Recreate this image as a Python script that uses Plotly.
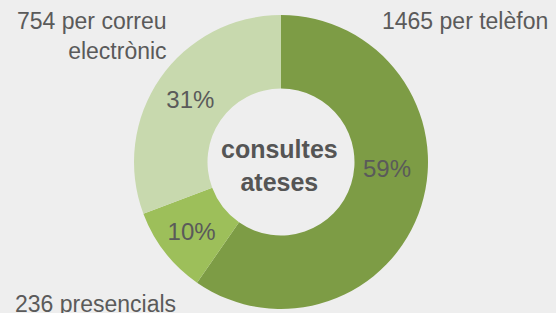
import plotly.graph_objects as go

categories = ["per telèfon", "presencials", "per correu electrònic"]
values = [1465, 236, 754]
pct_labels = ["59%", "10%", "31%"]
colors = ["#7d9c45", "#9dbf5a", "#c8d9ae"]
center_text = "consultes<br>ateses"

FONT = "Liberation Sans, Arial, sans-serif"
GRAY = "#5a5a5a"

fig = go.Figure(go.Pie(
    labels=categories,
    values=values,
    text=pct_labels,
    textinfo="text",
    textposition=["none", "inside", "inside"],
    insidetextorientation="horizontal",
    textfont=dict(family=FONT, size=24, color=GRAY),
    hole=0.5,
    sort=False,
    direction="clockwise",
    rotation=0,
    marker=dict(colors=colors, line=dict(width=0)),
    domain=dict(x=[134/556, 428/556], y=[4/313, 298/313]),
    showlegend=False,
    hoverinfo="label+value",
))

ann_font = dict(family=FONT, size=23, color=GRAY)
fig.add_annotation(x=380/556, y=1-21/313, xref="paper", yref="paper",
                   text=f"{values[0]} {categories[0]}", showarrow=False,
                   xanchor="left", yanchor="middle", font=ann_font)
fig.add_annotation(x=169/556, y=1-36/313, xref="paper", yref="paper",
                   text=f"{values[2]} per correu<br>electrònic", showarrow=False,
                   xanchor="right", yanchor="middle", align="right", font=ann_font)
fig.add_annotation(x=13/556, y=1-304/313, xref="paper", yref="paper",
                   text=f"{values[1]} {categories[1]}", showarrow=False,
                   xanchor="left", yanchor="middle", font=ann_font)
# label of the large slice sits higher than the slice centroid in the reference
fig.add_annotation(x=387/556, y=1-168/313, xref="paper", yref="paper",
                   text=pct_labels[0], showarrow=False,
                   xanchor="center", yanchor="middle",
                   font=dict(family=FONT, size=24, color=GRAY))
fig.add_annotation(x=279/556, y=1-165/313, xref="paper", yref="paper",
                   text=f"<b>{center_text}</b>", showarrow=False,
                   xanchor="center", yanchor="middle",
                   font=dict(family=FONT, size=25, color="#555555"))

fig.update_layout(
    width=556, height=313,
    margin=dict(l=0, r=0, t=0, b=0),
    paper_bgcolor="#eeeeee",
    plot_bgcolor="#eeeeee",
)

fig.write_html("out.html",
               config={"displayModeBar": False},
               post_script="document.body.style.margin='0';document.body.style.background='#eeeeee';")
